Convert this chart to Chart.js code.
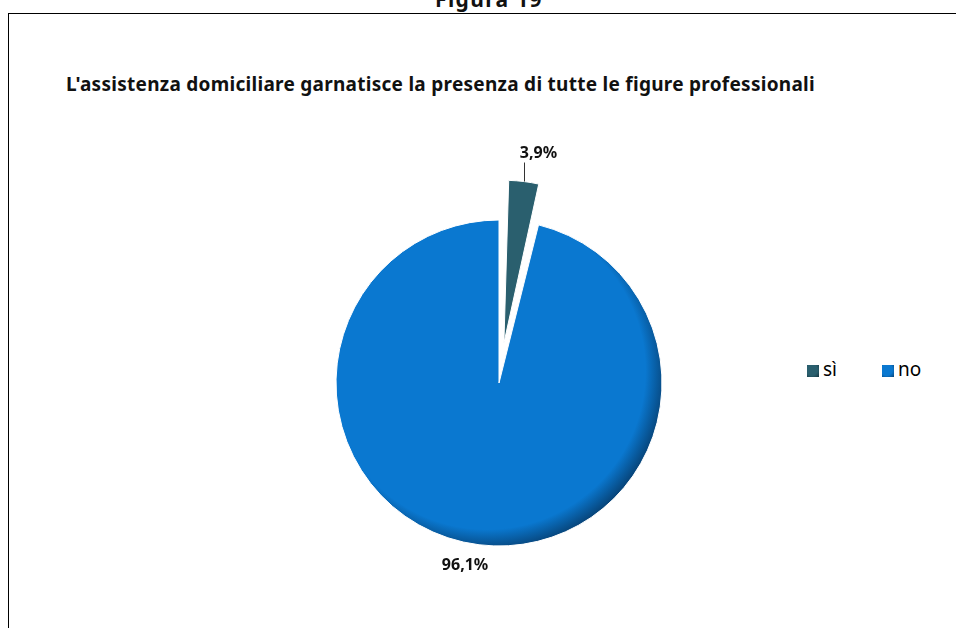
<!DOCTYPE html>
<html>
<head>
<meta charset="utf-8">
<script src="https://cdn.jsdelivr.net/npm/chart.js@4"></script>
<style>
  html, body { margin: 0; padding: 0; background: #fff; }
  body { width: 956px; height: 628px; position: relative; overflow: hidden; font-family: "Noto Sans", sans-serif; color: #000; }
  #frame { position: absolute; left: 8px; top: 13px; width: 960px; height: 630px; border-left: 1px solid #000; border-top: 1px solid #000; }
  #fig { position: absolute; top: -13px; left: 435px; line-height: 24px; font-weight: bold; font-size: 21px; white-space: nowrap; color: #111; }
  #title { position: absolute; left: 66px; top: 73px; line-height: 22px; font-weight: bold; font-size: 19px; white-space: nowrap; color: #111; }
  #legend { position: absolute; top: 358px; font-size: 19px; line-height: 22px; }
  .item { position: absolute; top: 0; white-space: nowrap; }
  .swatch { display: inline-block; width: 12px; height: 12px; margin-right: 4px; vertical-align: -1px; }
  canvas { position: absolute; left: 0; top: 0; }
</style>
</head>
<body>
<div id="frame"></div>
<div id="fig">Figura 19</div>
<div id="title">L'assistenza domiciliare garnatisce la presenza di tutte le figure professionali</div>
<div id="legend"></div>
<canvas id="pie" width="956" height="628"></canvas>
<script>
const labels = ['sì', 'no'];
const values = [3.9, 96.1];
const valueLabels = ['3,9%', '96,1%'];
const colors = ['#2a5f6e', '#0a78d0'];
const rimColors = ['#14353f', '#074377'];
const legendX = [807, 882];

const PIE_R = 163;
const EXPLODE = 40; // px the small slice is pulled out

// stretch a heading to a given width with letter spacing
function fitWidth(el, width) {
    const w = el.getBoundingClientRect().width;
    const n = el.textContent.length;
    el.style.letterSpacing = ((width - w) / n) + 'px';
}
fitWidth(document.getElementById('title'), 749);
fitWidth(document.getElementById('fig'), 108);

// legend
const legend = document.getElementById('legend');
labels.forEach((lab, i) => {
    const item = document.createElement('span');
    item.className = 'item';
    item.style.left = legendX[i] + 'px';
    const sw = document.createElement('span');
    sw.className = 'swatch';
    sw.style.background = 'radial-gradient(circle at 40% 40%, ' + colors[i] + ' 55%, ' + rimColors[i] + ' 100%)';
    item.appendChild(sw);
    item.appendChild(document.createTextNode(lab));
    legend.appendChild(item);
});

function sliceFill(context) {
    const chart = context.chart;
    const i = context.dataIndex;
    const area = chart.chartArea;
    if (!area) return colors[i];
    const cx = (area.left + area.right) / 2 - 12;
    const cy = (area.top + area.bottom) / 2 - 12;
    const g = chart.ctx.createRadialGradient(cx, cy, 0, cx, cy, PIE_R + 17);
    g.addColorStop(0, colors[i]);
    g.addColorStop(0.88, colors[i]);
    g.addColorStop(1, rimColors[i]);
    return g;
}

// chart.js grows the radius of offset slices, pull it back so both slices match
const keepRadius = {
    id: 'keepRadius',
    afterDatasetsUpdate(chart) {
        chart.getDatasetMeta(0).data.forEach((arc) => {
            const off = (arc.options.offset || 0) / 4;
            if (off) {
                arc.outerRadius -= off * (1 - Math.sin(Math.min(Math.PI, arc.circumference)));
            }
        });
    }
};

// value labels outside the slices
const sliceLabels = {
    id: 'sliceLabels',
    afterDatasetsDraw(chart, args, opts) {
        const ctx = chart.ctx;
        chart.getDatasetMeta(0).data.forEach((arc, i) => {
            const off = (arc.options.offset || 0) / 4;
            const half = (arc.startAngle + arc.endAngle) / 2;
            const fix = 1 - Math.sin(Math.min(Math.PI, arc.circumference));
            const r = arc.outerRadius + off * fix;
            const px = arc.x + Math.cos(half) * (off + r);
            const py = arc.y + Math.sin(half) * (off + r);
            const p = opts.place[i];
            ctx.save();
            ctx.font = 'bold 16px "Noto Sans"';
            ctx.fillStyle = '#111';
            if (p.line) {
                ctx.strokeStyle = '#333';
                ctx.lineWidth = 1;
                ctx.beginPath();
                ctx.moveTo(Math.round(px) + 0.5, py);
                ctx.lineTo(Math.round(px) + 0.5, py - p.line);
                ctx.stroke();
            }
            ctx.textAlign = p.align;
            ctx.textBaseline = 'alphabetic';
            ctx.fillText(valueLabels[i], px + p.dx, py + p.dy);
            ctx.restore();
        });
    }
};

new Chart(document.getElementById('pie'), {
    type: 'pie',
    data: {
        labels: labels,
        datasets: [{
            data: values,
            backgroundColor: sliceFill,
            borderColor: '#ffffff',
            borderWidth: 1,
            offset: [EXPLODE * 4, 0],
        }]
    },
    options: {
        responsive: false,
        animation: false,
        events: [],
        radius: PIE_R,
        layout: { padding: { left: 42, top: 138, right: 0, bottom: 0 } },
        plugins: {
            legend: { display: false },
            title: { display: false },
            tooltip: { enabled: false },
            sliceLabels: {
                place: [
                    { line: 19, align: 'left', dx: -4, dy: -24 },
                    { line: 0, align: 'center', dx: -14, dy: 25 },
                ]
            }
        }
    },
    plugins: [keepRadius, sliceLabels]
});
</script>
</body>
</html>
